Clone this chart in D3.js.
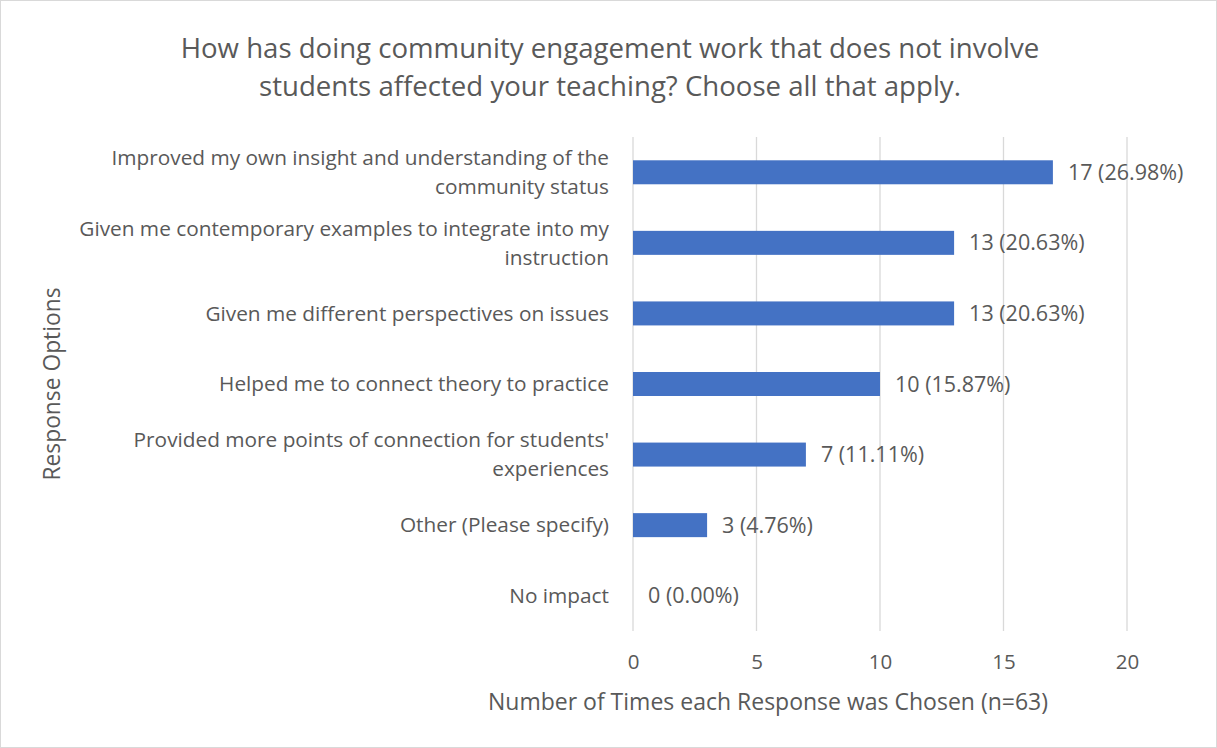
<!DOCTYPE html>
<html>
<head>
<meta charset="utf-8">
<script src="https://cdn.jsdelivr.net/npm/d3@7"></script>
<style>
  body { margin: 0; background: #fff; }
  svg text { font-family: "Open Sans", sans-serif; fill: #595959; }
</style>
</head>
<body>
<div id="chart"></div>
<script>
// data
var categories = [
    "Improved my own insight and understanding of the\ncommunity status",
    "Given me contemporary examples to integrate into my\ninstruction",
    "Given me different perspectives on issues",
    "Helped me to connect theory to practice",
    "Provided more points of connection for students'\nexperiences",
    "Other (Please specify)",
    "No impact"
];
var counts = [17, 13, 13, 10, 7, 3, 0];
var percents = ["26.98%", "20.63%", "20.63%", "15.87%", "11.11%", "4.76%", "0.00%"];
var xTicks = [0, 5, 10, 15, 20];
var titleLines = [
    "How has doing community engagement work that does not involve",
    "students affected your teaching? Choose all that apply."
];
var xTitle = "Number of Times each Response was Chosen (n=63)";
var yTitle = "Response Options";

var width = 1217, height = 748;
var plot = { left: 633, right: 1127, top: 137, bottom: 631 };

var svg = d3.select("#chart")
    .append("svg")
    .attr("width", width)
    .attr("height", height);

// chart border
svg.append("rect")
    .attr("x", 0.5).attr("y", 0.5)
    .attr("width", width - 1).attr("height", height - 1)
    .attr("fill", "#fff")
    .attr("stroke", "#d9d9d9");

var xScale = d3.scaleLinear()
    .domain([0, 20])
    .range([plot.left, plot.right]);
var yScale = d3.scaleBand()
    .domain(d3.range(categories.length))
    .range([plot.top, plot.bottom])
    .paddingInner(0.66)
    .paddingOuter(0.33);

// gridlines
svg.append("g")
    .selectAll("line")
    .data(xTicks)
    .enter()
    .append("line")
    .attr("x1", function(d) { return xScale(d); })
    .attr("x2", function(d) { return xScale(d); })
    .attr("y1", plot.top)
    .attr("y2", plot.bottom)
    .attr("stroke", "#d9d9d9")
    .attr("stroke-width", 1.3);

// x tick labels
var xAxis = d3.axisBottom(xScale).tickValues(xTicks).tickSize(0).tickPadding(0);
var gx = svg.append("g")
    .attr("transform", "translate(0," + (plot.bottom + 23) + ")")
    .call(xAxis);
gx.select(".domain").remove();
gx.selectAll("text")
    .attr("dy", "0.71em")
    .style("font-size", "20.5px")
    .style("font-family", "'Open Sans', sans-serif")
    .style("fill", "#595959");

// bars
svg.append("g")
    .selectAll("rect")
    .data(counts)
    .enter()
    .append("rect")
    .attr("x", xScale(0))
    .attr("y", function(d, i) { return yScale(i); })
    .attr("width", function(d) { return xScale(d) - xScale(0); })
    .attr("height", yScale.bandwidth())
    .attr("fill", "#4472c4");

// value labels
svg.append("g")
    .selectAll("text")
    .data(counts)
    .enter()
    .append("text")
    .attr("x", function(d) { return xScale(d) + 15; })
    .attr("y", function(d, i) { return yScale(i) + yScale.bandwidth() / 2; })
    .attr("dy", "0.35em")
    .style("font-size", "21.5px")
    .text(function(d, i) { return d + " (" + percents[i] + ")"; });

// category labels
var lineH = 29;
var catG = svg.append("g");
categories.forEach(function(c, i) {
    var lines = c.split("\n");
    var cy = yScale(i) + yScale.bandwidth() / 2;
    var t = catG.append("text")
        .attr("text-anchor", "end")
        .style("font-size", "20.8px");
    lines.forEach(function(l, k) {
        t.append("tspan")
            .attr("x", plot.left - 24)
            .attr("y", cy + (k - (lines.length - 1) / 2) * lineH)
            .attr("dy", "0.35em")
            .text(l);
    });
});

// title
var title = svg.append("text")
    .attr("text-anchor", "middle")
    .style("font-size", "27.6px");
titleLines.forEach(function(l, k) {
    title.append("tspan")
        .attr("x", 610)
        .attr("y", 48 + k * 38)
        .attr("dy", "0.35em")
        .text(l);
});

// axis titles
svg.append("text")
    .attr("x", 768)
    .attr("y", 702)
    .attr("dy", "0.35em")
    .attr("text-anchor", "middle")
    .style("font-size", "23px")
    .text(xTitle);

svg.append("text")
    .attr("transform", "translate(52,384) rotate(-90)")
    .attr("dy", "0.35em")
    .attr("text-anchor", "middle")
    .style("font-size", "22.8px")
    .text(yTitle);
</script>
</body>
</html>
